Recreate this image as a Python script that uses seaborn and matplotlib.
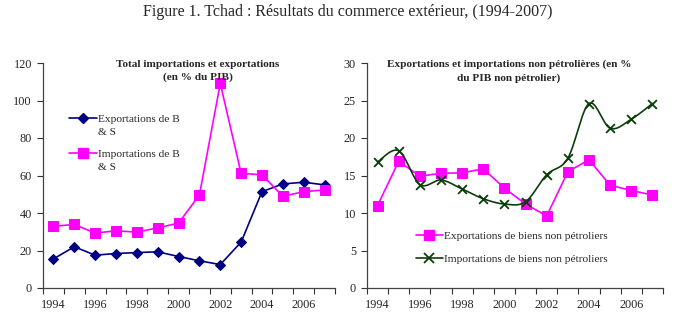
import numpy as np
import pandas as pd
import matplotlib
matplotlib.use("Agg")
import matplotlib.pyplot as plt
from matplotlib.lines import Line2D
from matplotlib.legend_handler import HandlerLine2D
import seaborn as sns

years = list(range(1994, 2008))
exp_bs = [15.5, 22.0, 17.5, 18.4, 18.9, 19.3, 16.8, 14.5, 12.5, 24.5, 51.4, 55.5, 56.4, 55.0]
imp_bs = [32.9, 33.9, 29.3, 30.5, 29.8, 32.1, 34.6, 49.6, 109.1, 61.1, 60.4, 48.9, 51.4, 52.3]
exp_np = [11.0, 16.9, 14.9, 15.3, 15.35, 15.9, 13.3, 11.2, 9.6, 15.5, 17.1, 13.7, 13.0, 12.4]
imp_np = [16.8, 18.3, 13.8, 14.4, 13.2, 11.9, 11.2, 11.5, 15.1, 17.3, 24.6, 21.3, 22.5, 24.6]

title = "Figure 1. Tchad : Résultats du commerce extérieur, (1994-2007)"
left_title = "Total importations et exportations\n(en % du PIB)"
right_title = "Exportations et importations non pétrolières (en %\ndu PIB non pétrolier)"
lbl_exp_bs = "Exportations de B\n& S"
lbl_imp_bs = "Importations de B\n& S"
lbl_exp_np = "Exportations de biens non pétroliers"
lbl_imp_np = "Importations de biens non pétroliers"

sns.set_theme(style="ticks")
plt.rcParams["font.family"] = ["Liberation Serif", "DejaVu Serif"]

NAVY = "#000080"
MAG = "#FF00FF"
GREEN = "#0B3D0B"

df = pd.DataFrame({"year": years, "exp_bs": exp_bs, "imp_bs": imp_bs,
                   "exp_np": exp_np, "imp_np": imp_np})

fig = plt.figure(figsize=(6.95, 3.21), dpi=100)
W, H = 695, 321
axL = fig.add_axes([43 / W, 1 - 288 / H, (335 - 43) / W, (288 - 63) / H])
axR = fig.add_axes([367 / W, 1 - 288 / H, (663 - 367) / W, (288 - 63) / H])

fig.text(0.5, 1 - 12 / H, title, ha="center", va="center", fontsize=11.5)


def smooth(x, y, n=20, t=0.5):
    x = np.asarray(x, float); y = np.asarray(y, float)
    P = np.column_stack([x, y])
    P = np.vstack([P[0], P, P[-1]])
    out = []
    for i in range(1, len(P) - 2):
        p0, p1, p2, p3 = P[i - 1], P[i], P[i + 1], P[i + 2]
        m1 = t * (p2 - p0)
        m2 = t * (p3 - p1)
        s = np.linspace(0, 1, n)[:, None]
        h00 = 2 * s**3 - 3 * s**2 + 1
        h10 = s**3 - 2 * s**2 + s
        h01 = -2 * s**3 + 3 * s**2
        h11 = s**3 - s**2
        out.append(h00 * p1 + h10 * m1 + h01 * p2 + h11 * m2)
    c = np.vstack(out)
    return c[:, 0], c[:, 1]


class UpHandler(HandlerLine2D):
    def create_artists(self, legend, orig_handle, xdescent, ydescent, width,
                       height, fontsize, trans):
        return super().create_artists(legend, orig_handle, xdescent,
                                      ydescent - 11.0, width, height,
                                      fontsize, trans)


# Left chart
sns.lineplot(data=df, x="year", y="exp_bs", ax=axL, color=NAVY, marker="D",
             markersize=5, markeredgecolor=NAVY, linewidth=1.2)
sns.lineplot(data=df, x="year", y="imp_bs", ax=axL, color=MAG, marker="s",
             markersize=7, markeredgecolor=MAG, linewidth=1.2)

# Right chart
sns.lineplot(data=df, x="year", y="exp_np", ax=axR, color=MAG, marker="s",
             markersize=7, markeredgecolor=MAG, linewidth=1.2)
sx, sy = smooth(years, imp_np)
axR.plot(sx, sy, color=GREEN, linewidth=1.2)
sns.scatterplot(data=df, x="year", y="imp_np", ax=axR, color=GREEN, marker="x",
                s=40, linewidth=1.3, zorder=3)

for ax, ymax, step in [(axL, 120, 20), (axR, 30, 5)]:
    ax.set_xlim(1993.5, 2007.5)
    ax.set_ylim(0, ymax)
    ax.set_yticks(np.arange(0, ymax + 1, step))
    ax.set_xticks(np.arange(1993.5, 2008, 1))
    ax.set_xticklabels([])
    ax.set_xticks(years[::2], minor=True)
    ax.set_xticklabels([str(y) for y in years[::2]], minor=True)
    ax.tick_params(axis="x", which="major", length=4, width=0.8, color="#333333", direction="out")
    ax.tick_params(axis="x", which="minor", length=0, labelsize=8.8, pad=8)
    ax.tick_params(axis="y", length=4, width=0.8, color="#333333", labelsize=8.8, pad=4)
    ax.set_xlabel("")
    ax.set_ylabel("")
    sns.despine(ax=ax)
    for s in ["left", "bottom"]:
        ax.spines[s].set_color("#444444")
        ax.spines[s].set_linewidth(0.9)

axL.text(0.53, 1.015, left_title, transform=axL.transAxes, ha="center", va="top",
         fontsize=8.1, fontweight="bold", linespacing=1.55)
axR.text(0.48, 1.015, right_title, transform=axR.transAxes, ha="center", va="top",
         fontsize=8.1, fontweight="bold", linespacing=1.55)

hL = [Line2D([], [], color=NAVY, marker="D", markersize=5, lw=1.2),
      Line2D([], [], color=MAG, marker="s", markersize=7, lw=1.2)]
legL = axL.legend(hL, [lbl_exp_bs, lbl_imp_bs], loc="upper left", bbox_to_anchor=(0.055, 0.815),
                  frameon=False, fontsize=8.2, handlelength=2.4, labelspacing=1.2,
                  handletextpad=0.1, handler_map={Line2D: UpHandler()})
for t in legL.get_texts():
    t.set_linespacing(1.55)

hR = [Line2D([], [], color=MAG, marker="s", markersize=7, lw=1.2),
      Line2D([], [], color=GREEN, marker="x", markersize=7, mew=1.3, lw=1.2)]
axR.legend(hR, [lbl_exp_np, lbl_imp_np], loc="upper left", bbox_to_anchor=(0.13, 0.3),
           frameon=False, fontsize=8.2, handlelength=2.4, labelspacing=1.2,
           handletextpad=0.1)

fig.savefig("out.png", dpi=100)
